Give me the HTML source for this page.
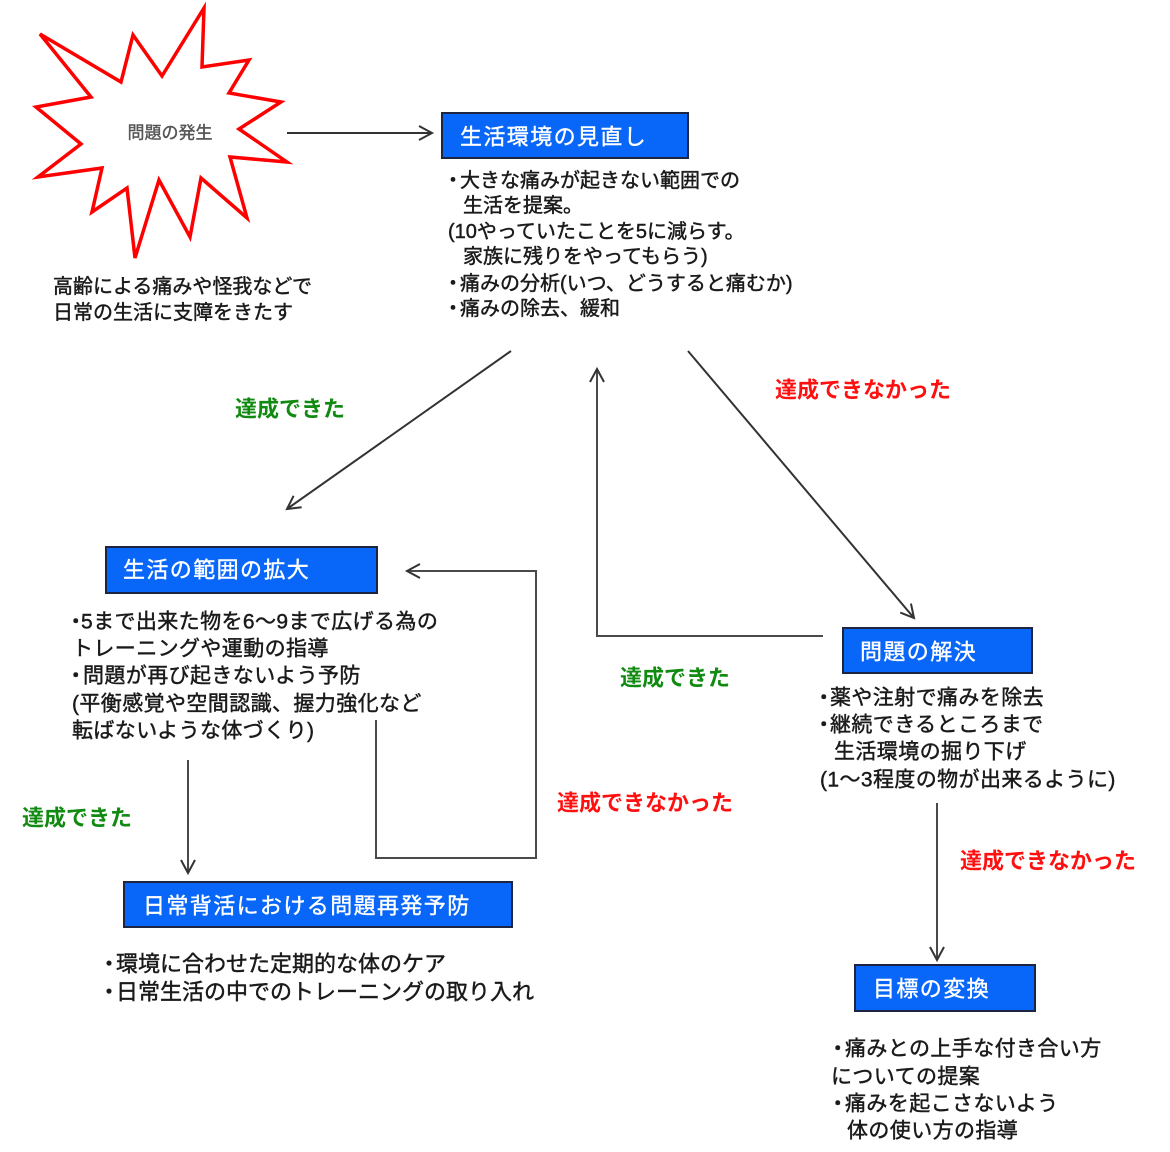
<!DOCTYPE html>
<html lang="ja">
<head>
<meta charset="utf-8">
<style>
  html,body{margin:0;padding:0;background:#fff;}
  body{width:1170px;height:1152px;overflow:hidden;}
  svg{display:block;}
  text{font-family:"Liberation Sans","Noto Sans CJK JP",sans-serif;}
  .b{fill:#1a1a1a;font-size:20px;stroke:#1a1a1a;stroke-width:0.45px;}
  .b21{fill:#1a1a1a;font-size:21px;letter-spacing:0.4px;stroke:#1a1a1a;stroke-width:0.45px;}
  .b22{fill:#1a1a1a;font-size:22px;stroke:#1a1a1a;stroke-width:0.45px;}
  .h{fill:#ffffff;font-size:22px;letter-spacing:1.4px;stroke:#ffffff;stroke-width:0.4px;}
  .g{fill:#108a10;font-size:22px;font-weight:bold;}
  .r{fill:#ff1010;font-size:22px;font-weight:bold;}
</style>
</head>
<body>
<svg width="1170" height="1152" viewBox="0 0 1170 1152" xmlns="http://www.w3.org/2000/svg">
  <defs>
    <marker id="a" markerWidth="20" markerHeight="20" refX="15" refY="10" orient="auto" markerUnits="userSpaceOnUse">
      <path d="M2,3 L15,10 L2,17" fill="none" stroke="#333" stroke-width="2"/>
    </marker>
  </defs>

  <!-- starburst -->
  <polygon points="204,8 202,67 249,60 229,93 281,102 239,129 287,162 230,157 247,218 201,178 190,237 159,180 135,258 127,188 92,212 102,168 38,177 81,144 36,107 91,97 40,34 121,82 133,35 162,76"
    fill="#fff" stroke="#ff0000" stroke-width="3.5" stroke-linejoin="miter"/>
  <text x="170" y="133" text-anchor="middle" dominant-baseline="central" style="font-size:17px;fill:#555;stroke:#555;stroke-width:0.4px;">問題の発生</text>

  <text class="b" x="53" y="287" dominant-baseline="central">高齢による痛みや怪我などで</text>
  <text class="b" x="53" y="313" dominant-baseline="central">日常の生活に支障をきたす</text>

  <!-- connectors -->
  <g fill="none" stroke="#333" stroke-width="2">
    <line x1="287" y1="133" x2="432" y2="133" marker-end="url(#a)"/>
    <line x1="511" y1="351" x2="287" y2="509" marker-end="url(#a)"/>
    <polyline points="823,636 597,636 597,369" stroke="#4a4a4a" marker-end="url(#a)"/>
    <line x1="688" y1="351" x2="914" y2="618" marker-end="url(#a)"/>
    <line x1="188" y1="760" x2="188" y2="873" stroke="#4a4a4a" marker-end="url(#a)"/>
    <polyline points="376,720 376,858 536,858 536,571 407,571" stroke="#4a4a4a" marker-end="url(#a)"/>
    <line x1="937" y1="803" x2="937" y2="960" stroke="#4a4a4a" marker-end="url(#a)"/>
  </g>

  <!-- boxes -->
  <g fill="#0866f8" stroke="#1d2540" stroke-width="2">
    <rect x="442" y="113" width="246" height="45"/>
    <rect x="106" y="547" width="271" height="46"/>
    <rect x="843" y="628" width="189" height="45"/>
    <rect x="124" y="882" width="388" height="45"/>
    <rect x="855" y="965" width="180" height="46"/>
  </g>
  <text class="h" x="460" y="137" dominant-baseline="central">生活環境の見直し</text>
  <text class="h" x="123" y="570" dominant-baseline="central">生活の範囲の拡大</text>
  <text class="h" x="860" y="652" dominant-baseline="central">問題の解決</text>
  <text class="h" x="143" y="906" dominant-baseline="central">日常背活における問題再発予防</text>
  <text class="h" x="873" y="989" dominant-baseline="central">目標の変換</text>

  <!-- box1 body -->
  <text class="b" x="453" y="181" text-anchor="middle" dominant-baseline="central">・</text>
  <text class="b" x="460" y="181" dominant-baseline="central">大きな痛みが起きない範囲での</text>
  <text class="b" x="463" y="206" dominant-baseline="central">生活を提案。</text>
  <text class="b" x="448" y="232" dominant-baseline="central">(10やっていたことを5に減らす。</text>
  <text class="b" x="463" y="257" dominant-baseline="central">家族に残りをやってもらう)</text>
  <text class="b" x="453" y="284" text-anchor="middle" dominant-baseline="central">・</text>
  <text class="b" x="460" y="284" dominant-baseline="central">痛みの分析(いつ、どうすると痛むか)</text>
  <text class="b" x="453" y="309" text-anchor="middle" dominant-baseline="central">・</text>
  <text class="b" x="460" y="309" dominant-baseline="central">痛みの除去、緩和</text>

  <!-- left block -->
  <text class="b21" x="76" y="622" text-anchor="middle" dominant-baseline="central">・</text>
  <text class="b21" x="81" y="622" dominant-baseline="central">5まで出来た物を6～9まで広げる為の</text>
  <text class="b21" x="72" y="649" dominant-baseline="central">トレーニングや運動の指導</text>
  <text class="b21" x="76" y="676" text-anchor="middle" dominant-baseline="central">・</text>
  <text class="b21" x="83" y="676" dominant-baseline="central">問題が再び起きないよう予防</text>
  <text class="b21" x="72" y="704" dominant-baseline="central">(平衡感覚や空間認識、握力強化など</text>
  <text class="b21" x="72" y="731" dominant-baseline="central">転ばないような体づくり)</text>

  <!-- bottom-left block -->
  <text class="b22" x="109" y="964" text-anchor="middle" dominant-baseline="central">・</text>
  <text class="b22" x="116" y="964" dominant-baseline="central">環境に合わせた定期的な体のケア</text>
  <text class="b22" x="109" y="992" text-anchor="middle" dominant-baseline="central">・</text>
  <text class="b22" x="116" y="992" dominant-baseline="central">日常生活の中でのトレーニングの取り入れ</text>

  <!-- right block -->
  <text class="b21" x="824" y="698" text-anchor="middle" dominant-baseline="central">・</text>
  <text class="b21" x="830" y="698" dominant-baseline="central">薬や注射で痛みを除去</text>
  <text class="b21" x="824" y="725" text-anchor="middle" dominant-baseline="central">・</text>
  <text class="b21" x="830" y="725" dominant-baseline="central">継続できるところまで</text>
  <text class="b21" x="834" y="752" dominant-baseline="central">生活環境の掘り下げ</text>
  <text class="b21" x="820" y="780" dominant-baseline="central">(1～3程度の物が出来るように)</text>

  <!-- bottom-right block -->
  <text class="b21" x="838" y="1049" text-anchor="middle" dominant-baseline="central">・</text>
  <text class="b21" x="845" y="1049" dominant-baseline="central">痛みとの上手な付き合い方</text>
  <text class="b21" x="831" y="1077" dominant-baseline="central">についての提案</text>
  <text class="b21" x="838" y="1104" text-anchor="middle" dominant-baseline="central">・</text>
  <text class="b21" x="845" y="1104" dominant-baseline="central">痛みを起こさないよう</text>
  <text class="b21" x="847" y="1131" dominant-baseline="central">体の使い方の指導</text>

  <!-- labels -->
  <text class="g" x="235" y="409" dominant-baseline="central">達成できた</text>
  <text class="r" x="775" y="390" dominant-baseline="central">達成できなかった</text>
  <text class="g" x="620" y="678" dominant-baseline="central">達成できた</text>
  <text class="g" x="22" y="818" dominant-baseline="central">達成できた</text>
  <text class="r" x="557" y="803" dominant-baseline="central">達成できなかった</text>
  <text class="r" x="960" y="861" dominant-baseline="central">達成できなかった</text>
</svg>
</body>
</html>
